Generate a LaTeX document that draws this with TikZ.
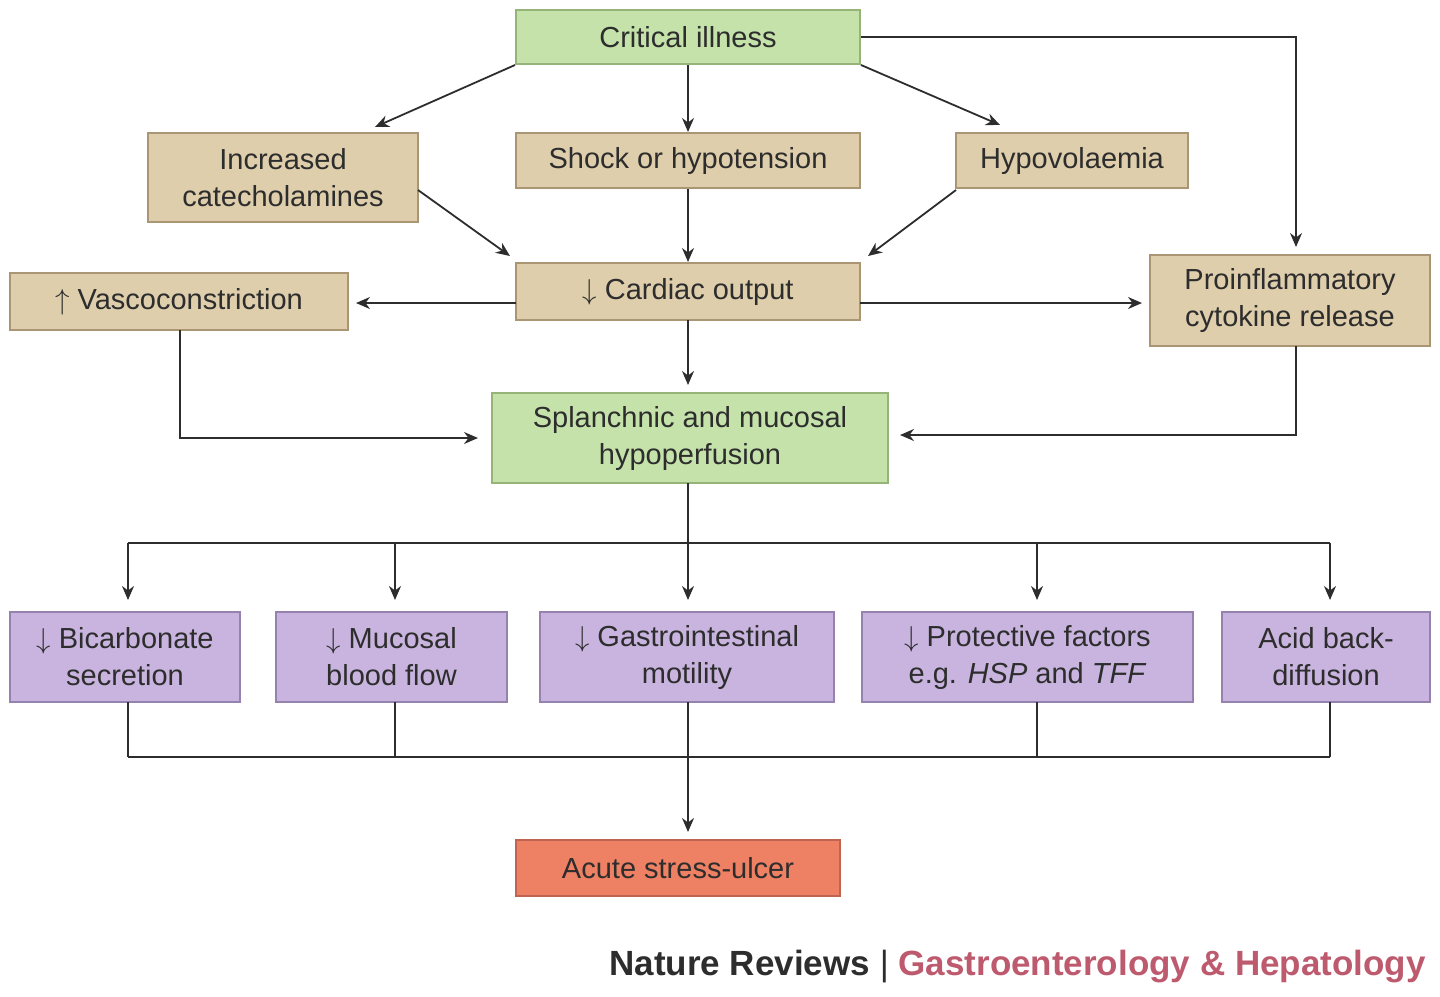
\documentclass[tikz,border=0pt]{standalone}
\usepackage{fontspec}
\setmainfont{Liberation Sans}
\usetikzlibrary{arrows.meta}
\definecolor{gfill}{RGB}{196,226,170}\definecolor{gdraw}{RGB}{150,180,120}
\definecolor{tfill}{RGB}{222,206,172}\definecolor{tdraw}{RGB}{170,150,115}
\definecolor{pfill}{RGB}{200,180,222}\definecolor{pdraw}{RGB}{150,130,175}
\definecolor{rfill}{RGB}{238,128,100}\definecolor{rdraw}{RGB}{190,100,80}
\definecolor{tx}{RGB}{45,45,45}\definecolor{pinkt}{RGB}{190,90,110}
\begin{document}
\begin{tikzpicture}[x=0.5pt,y=-0.5pt,
 box/.style={draw,line width=1pt,align=center,text=tx,inner sep=0pt,font=\fontsize{14.5}{18.5}\selectfont},
 g/.style={box,fill=gfill,draw=gdraw}, t/.style={box,fill=tfill,draw=tdraw},
 p/.style={box,fill=pfill,draw=pdraw}, r/.style={box,fill=rfill,draw=rdraw},
 ar/.style={-{Stealth[length=7pt,width=6pt]},line width=0.9pt,draw=tx},
 ln/.style={line width=0.9pt,draw=tx}]
\useasboundingbox (0,0) rectangle (1440,996);
\newcommand{\bx}[7]{\node[#1,minimum width=#4*0.5pt-#2*0.5pt,minimum height=#5*0.5pt-#3*0.5pt] (#6) at ({(#2+#4)/2},{(#3+#5)/2}) {#7};}
\bx{g}{516}{10}{860}{64}{ci}{Critical illness}
\bx{t}{148}{133}{418}{222}{cat}{Increased\\catecholamines}
\bx{t}{516}{133}{860}{188}{sh}{Shock or hypotension}
\bx{t}{956}{133}{1188}{188}{hy}{Hypovolaemia}
\bx{t}{516}{263}{860}{320}{co}{$\downarrow$ Cardiac output}
\bx{t}{10}{273}{348}{330}{va}{$\uparrow$ Vascoconstriction}
\bx{t}{1150}{255}{1430}{346}{pr}{Proinflammatory\\cytokine release}
\bx{g}{492}{393}{888}{483}{sp}{Splanchnic and mucosal\\hypoperfusion}
\bx{p}{10}{612}{240}{702}{b1}{$\downarrow$ Bicarbonate\\secretion}
\bx{p}{276}{612}{507}{702}{b2}{$\downarrow$ Mucosal\\blood flow}
\bx{p}{540}{612}{834}{702}{b3}{$\downarrow$ Gastrointestinal\\motility}
\bx{p}{862}{612}{1193}{702}{b4}{$\downarrow$ Protective factors\\e.g. \textit{HSP} and \textit{TFF}}
\bx{p}{1222}{612}{1430}{702}{b5}{Acid back-\\diffusion}
\bx{r}{516}{840}{840}{896}{au}{Acute stress-ulcer}
\node[anchor=east,font=\fontsize{17.5}{20}\selectfont\bfseries,inner sep=0pt] (ft) at (1426,967) {\textcolor{tx}{Nature Reviews} \textcolor{tx}{\mdseries\textbar} \textcolor{pinkt}{Gastroenterology \& Hepatology}};
\draw[ar] (ci.south west) -- (375,127);
\draw[ar] (ci.south) -- (sh.north);
\draw[ar] (ci.south east) -- (1000,125);
\draw[ar] (ci.east) -- (1296,37) -- (1296,247);
\draw[ar] (418,190) -- (510,256);
\draw[ar] (sh.south) -- (co.north);
\draw[ar] (956,190) -- (868,256);
\draw[ar] (516,303) -- (356,303);
\draw[ar] (860,303) -- (1142,303);
\draw[ar] (688,320) -- (688,385);
\draw[ar] (180,330) -- (180,438) -- (478,438);
\draw[ar] (1296,346) -- (1296,435) -- (900,435);
\draw[ln] (688,483) -- (688,543);
\draw[ln] (128,543) -- (1330,543);
\foreach \x in {128,395,688,1037,1330}{\draw[ar] (\x,543) -- (\x,600);}
\foreach \x in {128,395,688,1037,1330}{\draw[ln] (\x,702) -- (\x,757);}
\draw[ln] (128,757) -- (1330,757);
\draw[ar] (688,757) -- (688,832);
\end{tikzpicture}
\end{document}
